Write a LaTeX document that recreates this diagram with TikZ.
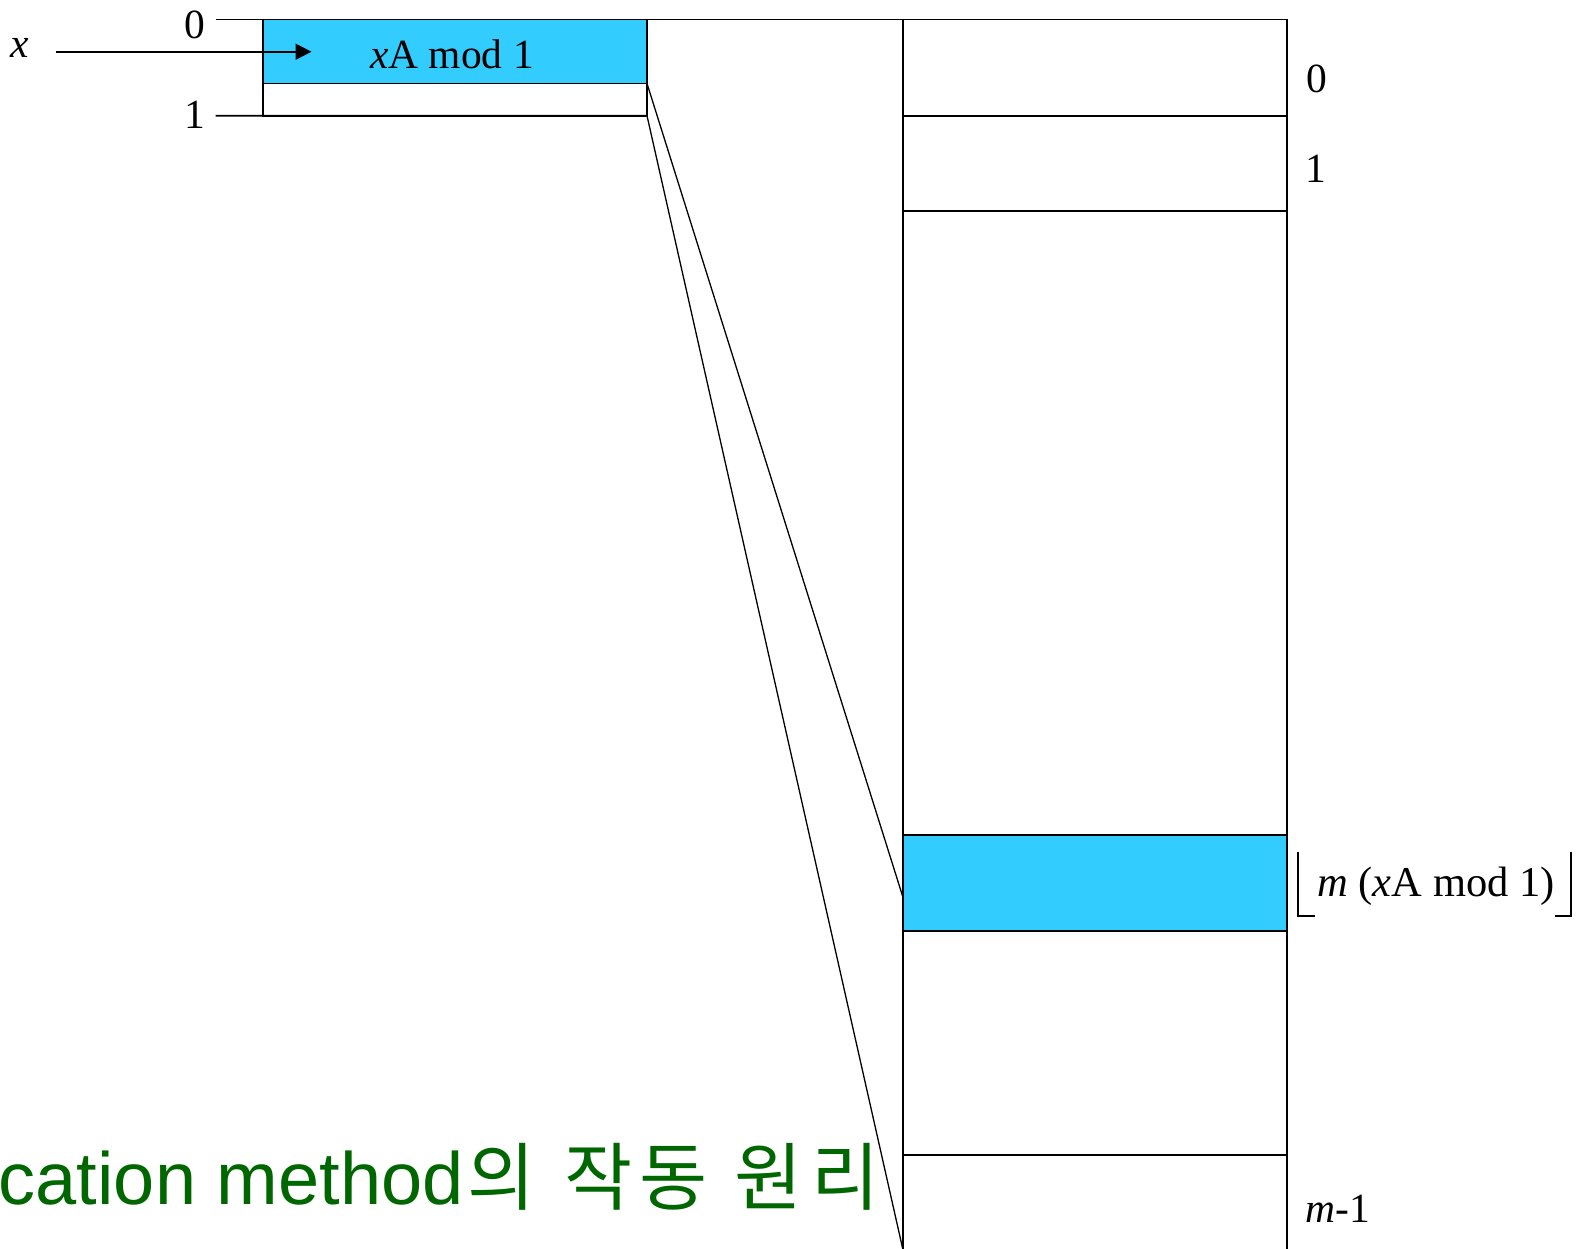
\documentclass[tikz,border=0pt]{standalone}
\usepackage{fontspec}
\setmainfont{Liberation Serif}
\newfontfamily\titlesans{Liberation Sans}
\newfontfamily\krfont{Noto Sans CJK KR}
\usetikzlibrary{calc,arrows.meta}
\definecolor{slotblue}{HTML}{33CCFF}
\definecolor{titlegreen}{HTML}{006600}
\newcommand{\kbox}[2]{\makebox[#1pt][l]{#2}}
\begin{document}
\begin{tikzpicture}[x=1pt,y=-1pt,line width=1.6pt,
  cellbox/.style={draw, minimum width=384pt, inner sep=0pt, outer sep=0pt, anchor=north west},
  lbl/.style={font=\fontsize{41.5}{46}\selectfont, inner sep=0pt},
  wire/.style={line width=1.6pt},
]
\useasboundingbox (0,0) rectangle (1587,1248);
\clip (0,0) rectangle (1587,1248);

% left hash box
\node[cellbox, fill=slotblue, minimum height=64pt] (hash) at (263,19.5) {};
\node[cellbox, minimum height=32.2pt] (rest) at (hash.south west) {};
\node[lbl] (hashtxt) at (452,54) {\textit{x}A mod 1};

% right table column
\node[cellbox, minimum height=1300pt] (col) at (903,19.5) {};
\node[cellbox, minimum height=96.2pt] (row0) at (903,19.5) {};
\node[cellbox, minimum height=95.3pt] (row1) at (row0.south west) {};
\node[cellbox, fill=slotblue, minimum height=96pt] (slot) at (903,835) {};
\node[cellbox, minimum height=150pt] (rowlast) at (903,1155) {};

% ticks
\coordinate (t0) at (215.5,19.5);
\coordinate (t1) at (215.5,115.7);
\draw[wire] (t0) -- (row0.north east);
\draw[wire] (t1) -- (rest.south east);

% left labels
\node[lbl] (l0) at (195,25) {0};
\node[lbl] (l1) at (195,114.5) {1};
\node[lbl] (xl) at (20,48) {\textit{x}};

% input arrow
\coordinate (xin) at (55.6,51.7);
\coordinate (xtip) at (311.5,51.7);
\draw[wire,-{Triangle[length=16pt,width=16pt]}] (xin) -- (xtip);

% mapping lines
\coordinate (hitslot) at ($(slot.north west)!0.65!(slot.south west)$);
\coordinate (hitbottom) at (903,1250);
\draw[line width=1.3pt] (hash.south east) -- (hitslot);
\draw[line width=1.3pt] (rest.south east) -- (hitbottom);

% right labels
\node[lbl] (r0) at (1317,79) {0};
\node[lbl] (r1) at (1316,169) {1};
\node[lbl] (rm) at (1338,1209) {\textit{m}-1};
\node[lbl, font=\fontsize{42.5}{47}\selectfont] (fl) at (1436,886) {\textit{m} (\textit{x}A mod 1)};
\draw[wire] (1298,851.7) -- (1298,916) -- (1315,916);
\draw[wire] (1555,916) -- (1571,916) -- (1571,851.7);

% title (partially cut off)
\node[anchor=base west, inner sep=0pt, text=titlegreen, font=\fontsize{74}{80}\selectfont] (title) at (-2,1204)
  {\titlesans cation method\krfont\hspace{4pt}\kbox{97}{의}\kbox{75}{작}\kbox{95}{동}\kbox{77}{원}리};
\end{tikzpicture}
\end{document}
